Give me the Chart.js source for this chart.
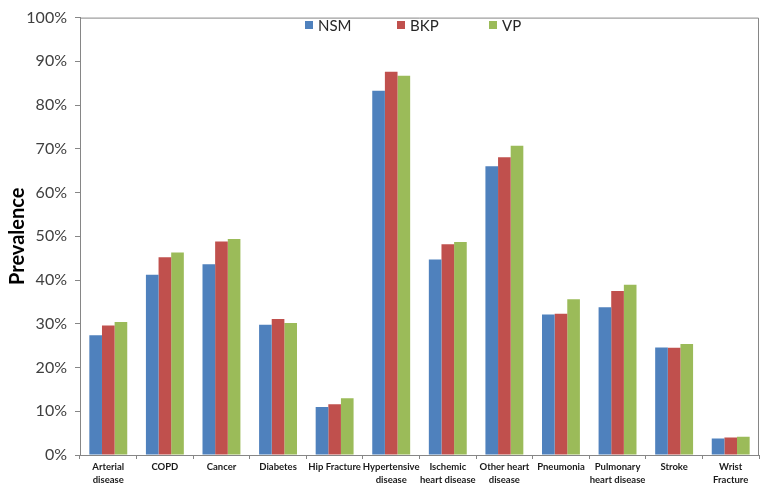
<!DOCTYPE html>
<html>
<head>
<meta charset="utf-8">
<script src="https://cdn.jsdelivr.net/npm/chart.js@4.4.0/dist/chart.umd.min.js"></script>
<style>
  html, body { margin: 0; padding: 0; background: #fff; }
  #wrap { position: relative; width: 761px; height: 485px; }
  #legend { position: absolute; left: 305px; top: 16px; display: flex; margin: 0; padding: 0; list-style: none;
            font-family: Lato, sans-serif; font-size: 15px; color: #262626; line-height: 18px; }
  #legend li { width: 92px; display: flex; align-items: center; white-space: nowrap; }
  #legend li span.box { display: inline-block; width: 8px; height: 8px; margin-right: 5px; }
</style>
</head>
<body>
<div id="wrap"><canvas id="prevChart"></canvas><ul id="legend"></ul></div>
<script>
const categories = [
    ['Arterial', 'disease'], 'COPD', 'Cancer', 'Diabetes', 'Hip Fracture',
    ['Hypertensive', 'disease'], ['Ischemic', 'heart disease'], ['Other heart', 'disease'],
    'Pneumonia', ['Pulmonary', 'heart disease'], 'Stroke', ['Wrist', 'Fracture']
];
const nsm = [27.4, 41.2, 43.6, 29.8, 11.0, 83.3, 44.7, 66.0, 32.1, 33.8, 24.6, 3.8];
const bkp = [29.6, 45.2, 48.8, 31.1, 11.6, 87.6, 48.2, 68.1, 32.3, 37.5, 24.5, 4.0];
const vp  = [30.4, 46.3, 49.4, 30.2, 13.0, 86.7, 48.7, 70.7, 35.6, 38.9, 25.4, 4.2];

// frame on top and right of the plot area
const frame = {
    id: 'frame',
    afterDatasetsDraw(chart) {
        const a = chart.chartArea, c = chart.ctx;
        c.save();
        c.strokeStyle = '#868686';
        c.lineWidth = 1;
        c.beginPath();
        c.moveTo(a.left, a.top + 0.5);
        c.lineTo(a.right - 0.5, a.top + 0.5);
        c.lineTo(a.right - 0.5, a.bottom);
        c.stroke();
        c.restore();
    }
};

// legend drawn as html inside the plot area
const htmlLegend = {
    id: 'htmlLegend',
    afterUpdate(chart) {
        const ul = document.getElementById('legend');
        ul.innerHTML = '';
        chart.options.plugins.legend.labels.generateLabels(chart).forEach(item => {
            const li = document.createElement('li');
            const box = document.createElement('span');
            box.className = 'box';
            box.style.background = item.fillStyle;
            li.appendChild(box);
            li.appendChild(document.createTextNode(item.text));
            ul.appendChild(li);
        });
    }
};

document.addEventListener('DOMContentLoaded', function() {
    const ctx = document.getElementById('prevChart').getContext('2d');
    new Chart(ctx, {
        type: 'bar',
        data: {
            labels: categories,
            datasets: [
                { label: 'NSM', data: nsm, backgroundColor: '#4F81BD' },
                { label: 'BKP', data: bkp, backgroundColor: '#C0504D' },
                { label: 'VP', data: vp, backgroundColor: '#9BBB59' }
            ]
        },
        options: {
            responsive: true,
            maintainAspectRatio: false,
            animation: false,
            layout: { padding: { top: 8, right: 2, left: 0, bottom: 0 } },
            datasets: {
                bar: { categoryPercentage: 0.67, barPercentage: 1.0 }
            },
            scales: {
                x: {
                    grid: {
                        offset: true,
                        drawOnChartArea: false,
                        drawTicks: true,
                        tickLength: 4,
                        color: '#868686'
                    },
                    border: { color: '#868686' },
                    ticks: {
                        maxRotation: 0,
                        autoSkip: false,
                        padding: 1,
                        color: '#1a1a1a',
                        font: { family: 'Lato', size: 9.5, weight: 'bold', lineHeight: 1.4 }
                    },
                    afterFit: s => { s.height = 30; }
                },
                y: {
                    min: 0,
                    max: 100,
                    ticks: {
                        stepSize: 10,
                        padding: 8,
                        color: '#404040',
                        font: { family: 'Lato', size: 16 },
                        callback: v => v + '%'
                    },
                    grid: {
                        drawOnChartArea: false,
                        drawTicks: true,
                        tickLength: 5,
                        color: '#868686'
                    },
                    border: { color: '#868686' },
                    title: {
                        display: true,
                        text: 'Prevalence',
                        color: '#000',
                        padding: { top: 6, bottom: 0 },
                        font: { family: 'Lato', size: 20, weight: 'bold' }
                    },
                    afterFit: s => { s.width = 80; }
                }
            },
            plugins: {
                legend: { display: false },
                tooltip: { enabled: false }
            }
        },
        plugins: [frame, htmlLegend]
    });
});
</script>
</body>
</html>
